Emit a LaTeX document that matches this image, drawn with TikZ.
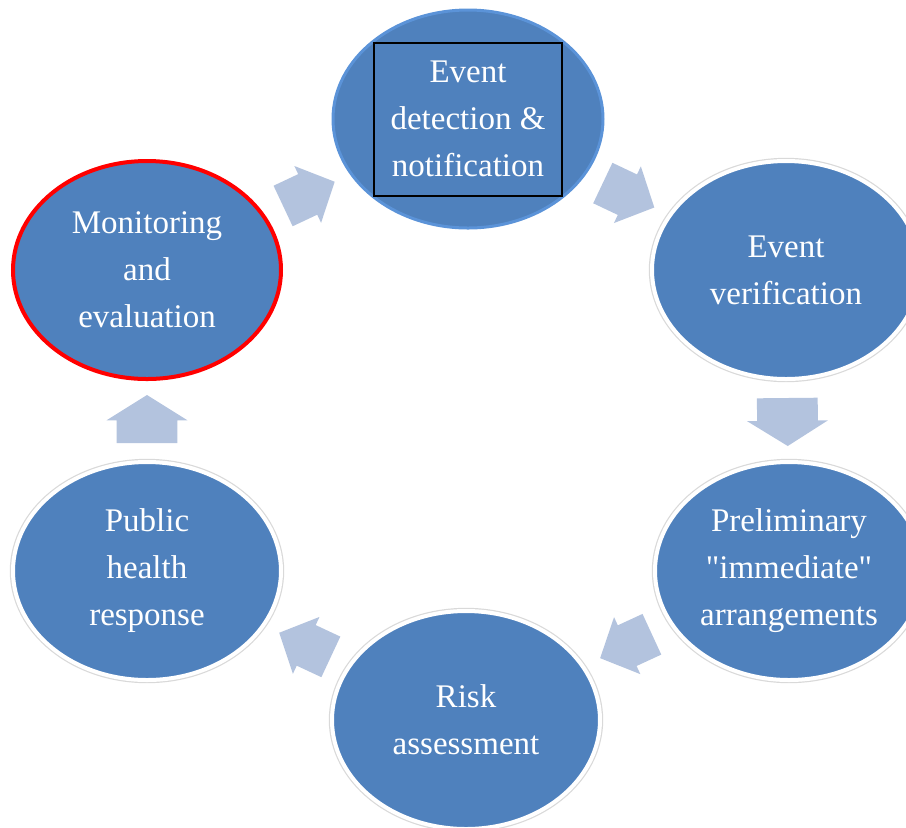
\documentclass[tikz,border=0pt]{standalone}
\usepackage{fontspec}
\setmainfont{Liberation Serif}
\usetikzlibrary{shapes.geometric,shapes.arrows}

\definecolor{stageblue}{HTML}{4F81BD}
\definecolor{flowblue}{HTML}{B3C3DE}
\definecolor{rimblue}{HTML}{5B93D8}

\begin{document}
\begin{tikzpicture}[x=0.5pt,y=-0.5pt,
  stage/.style={ellipse, fill=stageblue, minimum width=134pt, minimum height=109pt,
    inner sep=0pt, align=center, text=white, font=\fontsize{16.5}{23.5}\selectfont},
  halo/.style={stage, preaction={draw=gray!30, line width=3.2pt}, draw=white, line width=2pt},
  flow/.style={single arrow, fill=flowblue, draw=none, inner xsep=0pt, inner ysep=11pt,
    single arrow head extend=4.5pt, single arrow tip angle=93, minimum height=28.5pt,
    sloped, allow upside down, midway, xshift=-4.5pt},
  flowv/.style={flow, inner ysep=15pt, single arrow head extend=5pt,
    single arrow tip angle=116, minimum height=24pt, xshift=0.5pt}]
  % Fix the page and cut off what runs past the right edge
  \useasboundingbox (0,0) rectangle (906,827);
  \clip (0,0) rectangle (906,827);

  % The six stages of the cycle
  \node[stage, draw=rimblue, line width=1.5pt, minimum width=135pt] (detect) at (468,119) {Event\\detection \&\\notification};
  \node[halo] (verify) at (786,270) {Event\\verification};
  \node[halo] (prelim) at (789,571) {Preliminary\\\textquotedbl immediate\textquotedbl\\arrangements};
  \node[halo] (risk) at (466,720) {Risk\\assessment};
  \node[halo] (public) at (147,571) {Public\\health\\response};
  \node[stage, draw=red, line width=2pt] (monitor) at (147,270) {Monitoring\\and\\evaluation};

  % Black frame round the first stage's text
  \node[draw=black, line width=1pt, minimum width=94pt, minimum height=76.5pt] (detectbox) at (detect) {};

  % Block arrows between the stages
  \path (monitor) -- (detect) node[flow] (a1) {};
  \path (detect) -- (verify) node[flow] (a2) {};
  \path (verify) -- (prelim) node[flowv] (a3) {};
  \path (prelim) -- (risk) node[flow] (a4) {};
  \path (risk) -- (public) node[flow] (a5) {};
  \path (public) -- (monitor) node[flowv] (a6) {};
\end{tikzpicture}
\end{document}
